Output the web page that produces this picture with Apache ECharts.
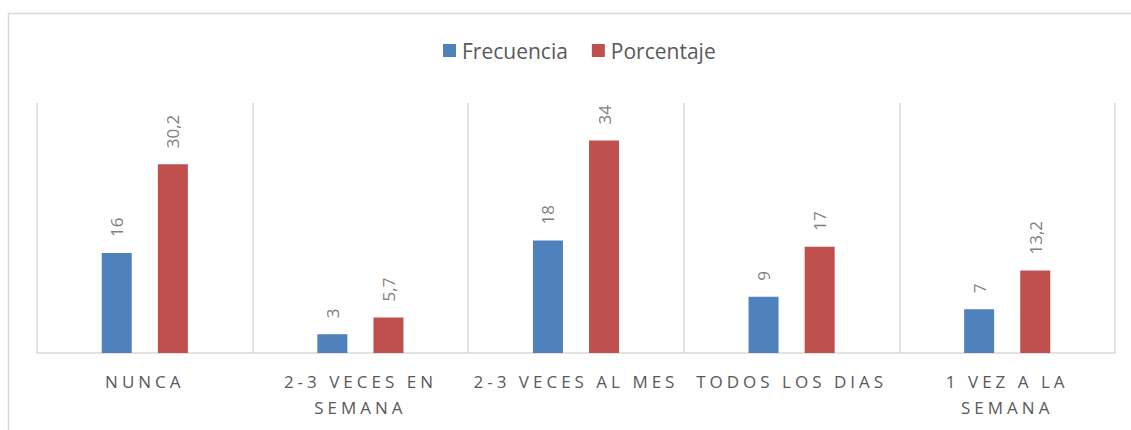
<!DOCTYPE html>
<html>
<head>
<meta charset="utf-8">
<script src="https://cdn.jsdelivr.net/npm/echarts@6/dist/echarts.min.js"></script>
<style>
  html, body { margin: 0; padding: 0; background: #fff; }
  #chart { width: 1131px; height: 430px; }
  #chart text.cat-label { letter-spacing: 4px; }
</style>
</head>
<body>
<div id="chart"></div>
<script>
const categories = ["NUNCA", "2-3 VECES EN\nSEMANA", "2-3 VECES AL MES", "TODOS LOS DIAS", "1 VEZ A LA\nSEMANA"];
const frecuencia = [16, 3, 18, 9, 7];
const porcentaje = [30.2, 5.7, 34, 17, 13.2];

const FONT = "'Open Sans', 'Liberation Sans', sans-serif";
const catWords = categories.flatMap((c) => c.split("\n"));

function valueLabel() {
  return {
    show: true,
    position: "top",
    rotate: 90,
    align: "left",
    verticalAlign: "middle",
    distance: 16,
    color: "#7f7f7f",
    fontFamily: FONT,
    fontSize: 17,
    formatter: (p) => String(p.value).replace(".", ",")
  };
}

const chart = echarts.init(document.getElementById("chart"), null, { renderer: "svg" });
chart.setOption({
  animation: false,
  color: ["#4f81bd", "#c0504d"],
  graphic: [
    {
      type: "rect",
      shape: { x: 8.5, y: 13.5, width: 1200, height: 500 },
      style: { fill: "none", stroke: "#d9d9d9", lineWidth: 1.5 },
      silent: true
    }
  ],
  legend: {
    top: 40,
    left: 443,
    padding: 0,
    itemWidth: 13,
    itemHeight: 13,
    itemGap: 24,
    icon: "rect",
    textStyle: { color: "#595959", fontSize: 21, fontFamily: FONT, padding: [0, 0, 0, 1] }
  },
  grid: { left: 37, right: 16, top: 103, bottom: 77 },
  xAxis: {
    type: "category",
    data: categories,
    axisLine: { lineStyle: { color: "#d9d9d9", width: 1.5 } },
    axisTick: { show: false },
    splitLine: { show: true, lineStyle: { color: "#d9d9d9", width: 1.5 } },
    axisLabel: {
      interval: 0,
      margin: 15,
      color: "#595959",
      fontSize: 17,
      lineHeight: 26,
      fontFamily: FONT
    }
  },
  yAxis: {
    type: "value",
    min: 0,
    max: 40,
    show: false,
    splitLine: { show: false }
  },
  series: [
    {
      name: "Frecuencia",
      type: "bar",
      data: frecuencia,
      barWidth: 30,
      barGap: "87%",
      label: valueLabel()
    },
    {
      name: "Porcentaje",
      type: "bar",
      data: porcentaje,
      barWidth: 30,
      label: valueLabel()
    }
  ]
});

// letter spacing on the category labels (svg text)
function spaceCategoryLabels() {
  document.querySelectorAll("#chart svg text").forEach((t) => {
    const txt = t.textContent.trim();
    if (catWords.includes(txt) || categories.includes(txt)) {
      t.classList.add("cat-label");
      t.setAttribute("letter-spacing", "4");
      t.style.letterSpacing = "4px";
    }
    t.querySelectorAll("tspan").forEach((s) => {
      if (catWords.includes(s.textContent.trim())) {
        s.style.letterSpacing = "4px";
        s.setAttribute("letter-spacing", "4");
      }
    });
  });
}
chart.on("finished", spaceCategoryLabels);
spaceCategoryLabels();
setTimeout(spaceCategoryLabels, 50);
</script>
</body>
</html>
